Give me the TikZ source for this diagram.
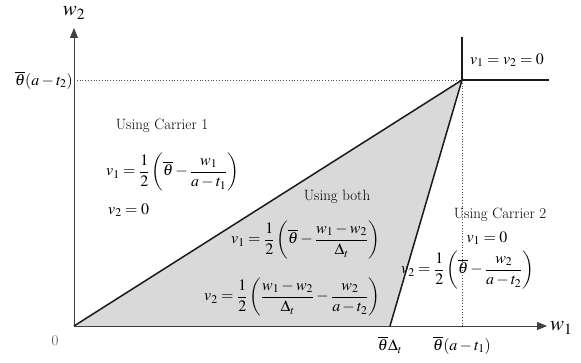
\documentclass[tikz,border=0pt]{standalone}
\usepackage{amsmath}
\usepackage{mathptmx}
\usepackage{tikz}
\usetikzlibrary{arrows.meta, positioning}

\tikzset{
  axis/.style={draw=black!75, line width=1pt, -{Triangle[length=10pt,width=8pt]}},
  border/.style={draw=black!90, line width=1.5pt},
  guide/.style={draw=black!70, line width=0.8pt, dotted},
  lbl/.style={inner sep=1pt, font=\fontsize{15}{18}\selectfont},
  eqn/.style={inner sep=1pt, font=\fontsize{16}{19}\selectfont}
}

\begin{document}
\begin{tikzpicture}[x=1bp, y=1bp]
  \useasboundingbox (0,0) rectangle (581,362);

  % corner points of the regions
  \coordinate (O) at (74,36);
  \coordinate (P) at (462,282);
  \coordinate (D) at (390,36);
  \coordinate (ytop) at (74,334);
  \coordinate (xend) at (547,36);
  \coordinate (ptop) at (462,325);
  \coordinate (pend) at (549,282);
  \coordinate (yP) at (74,282);
  \coordinate (xP) at (462,36);

  \fill[black!15] (O) -- (P) -- (D) -- cycle;

  \draw[guide] (yP) -- (P);
  \draw[guide] (P) -- (xP);

  \draw[axis] (O) -- (xend);
  \draw[axis] (O) -- (ytop);

  \draw[border] (O) -- (P) -- (D);
  \draw[border] (ptop) -- (P) -- (pend);

  % axis labels
  \node[lbl, font=\fontsize{21}{24}\selectfont] (w2) at (74,349) {$w_2$};
  \node[lbl, anchor=west, font=\fontsize{21}{24}\selectfont] (w1) at (549,34) {$w_1$};
  \node[eqn, anchor=east] (tq2) at (yP) {$\overline{\theta}(a-t_2)$};
  \node[lbl, text=black!70] (zero) at (55,21) {0};
  \node[eqn] (tD) at (390,17) {$\overline{\theta}\Delta_t$};
  \node[eqn] (tq1) at (462,17) {$\overline{\theta}(a-t_1)$};
  \node[eqn] (none) at (507,302) {$v_1=v_2=0$};

  % Carrier 1 region
  \node[lbl] (c1) at (162,236) {Using Carrier 1};
  \node[eqn, anchor=west] (c1v1) at (105,190)
    {$\displaystyle v_1=\frac{1}{2}\left(\overline{\theta}-\frac{w_1}{a-t_1}\right)$};
  \node[eqn, anchor=west] (c1v2) at (107,152) {$v_2=0$};

  % both carriers
  \node[lbl] (bo) at (337,165) {Using both};
  \node[eqn, anchor=west] (bov1) at (230,122)
    {$\displaystyle v_1=\frac{1}{2}\left(\overline{\theta}-\frac{w_1-w_2}{\Delta_t}\right)$};
  \node[eqn, anchor=west] (bov2) at (203,65)
    {$\displaystyle v_2=\frac{1}{2}\left(\frac{w_1-w_2}{\Delta_t}-\frac{w_2}{a-t_2}\right)$};

  % Carrier 2 region
  \node[lbl] (c2) at (500,147) {Using Carrier 2};
  \node[eqn] (c2v1) at (487,124) {$v_1=0$};
  \node[eqn, anchor=west] (c2v2) at (400,92)
    {$\displaystyle v_2=\frac{1}{2}\left(\overline{\theta}-\frac{w_2}{a-t_2}\right)$};
\end{tikzpicture}
\end{document}
